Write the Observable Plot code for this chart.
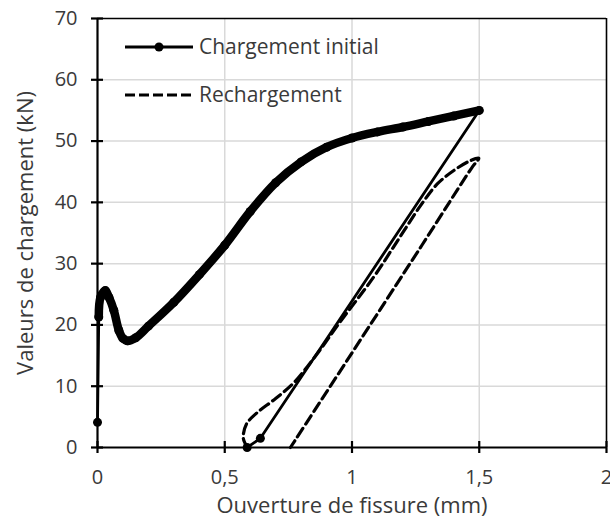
<!DOCTYPE html>
<html><head><meta charset="utf-8">
<script src="https://cdn.jsdelivr.net/npm/d3@7"></script>
<script src="https://cdn.jsdelivr.net/npm/@observablehq/plot@0.6"></script>
<style>body{margin:0;background:#fff}</style>
</head><body><div id="chart"></div>
<script>
const xTicks = [0, 0.5, 1, 1.5, 2];
const yTicks = [0, 10, 20, 30, 40, 50, 60, 70];
const seriesNames = ["Chargement initial", "Rechargement"];
const xTitle = "Ouverture de fissure (mm)";
const yTitle = "Valeurs de chargement (kN)";

// Chargement initial (loading, then unloading back to zero)
const initialX = [0, 0.005, 0.012, 0.031, 0.045, 0.064, 0.084, 0.1, 0.117, 0.15, 0.2, 0.3, 0.4, 0.5, 0.6, 0.7, 0.8, 0.9, 1.0, 1.1, 1.2, 1.3, 1.4, 1.5, 0.64, 0.588];
const initialY = [4.1, 21.3, 24.5, 25.6, 24.5, 22.4, 19.1, 17.8, 17.4, 17.9, 19.8, 23.7, 28.2, 33.0, 38.5, 43.2, 46.6, 49.0, 50.5, 51.5, 52.3, 53.2, 54.1, 55.0, 1.5, 0];

// Rechargement (reloading loop)
const reloadX = [0.59, 0.573, 0.585, 0.625, 0.70, 0.77, 0.856, 0.95, 1.085, 1.18, 1.27, 1.335, 1.40, 1.465, 1.498, 1.47, 1.27, 0.758];
const reloadY = [0, 1.5, 3.8, 5.6, 8.0, 10.5, 14.9, 20.3, 27.8, 33.8, 39.5, 43.0, 45.2, 46.8, 47.2, 45.6, 32.7, 0];

const initial = initialX.map((x, i) => ({x, y: initialY[i]}));
const reload = reloadX.map((x, i) => ({x, y: reloadY[i]}));
const peakIndex = initialX.indexOf(1.5);
const dense = initial.slice(1, peakIndex + 1);

const fmt = d => String(d).replace(".", ",");
const font = "'Open Sans', sans-serif";
const textColor = "#3a3a3a";
const fsTick = 20, fsTitle = 22, fsLegend = 21;

const plot = Plot.plot({
  width: 610, height: 524,
  marginLeft: 97, marginRight: 4, marginTop: 18, marginBottom: 77,
  x: {domain: [0, 2], axis: null},
  y: {domain: [0, 70], axis: null},
  style: {fontFamily: font, background: "white", overflow: "visible"},
  marks: [
    Plot.ruleX(xTicks.slice(1, -1), {stroke: "#d9d9d9", strokeWidth: 1.5}),
    Plot.ruleY(yTicks.slice(1, -1), {stroke: "#d9d9d9", strokeWidth: 1.5}),
    Plot.ruleX([2], {stroke: "black", strokeWidth: 1.6}),
    Plot.ruleY([70], {stroke: "black", strokeWidth: 1.6}),
    Plot.ruleX([0], {stroke: "black", strokeWidth: 2.2}),
    Plot.ruleY([0], {stroke: "black", strokeWidth: 2.2}),
    Plot.ruleX(xTicks, {y1: 0, y2: 0, insetTop: -6, insetBottom: -6, stroke: "black", strokeWidth: 2.2}),
    Plot.ruleY(yTicks, {x1: 0, x2: 0, insetLeft: -6, insetRight: -6, stroke: "black", strokeWidth: 2.2}),
    Plot.text(xTicks, {x: d => d, y: 0, dy: 30, text: d => fmt(d), fontSize: fsTick, fill: textColor}),
    Plot.text(yTicks, {x: 0, y: d => d, dx: -20, textAnchor: "end", text: d => String(d), fontSize: fsTick, fill: textColor}),
    Plot.text([xTitle], {frameAnchor: "bottom", dy: 65, textAnchor: "middle", text: d => d, fontSize: fsTitle, fill: textColor}),
    Plot.text([yTitle], {frameAnchor: "left", dx: -72, rotate: -90, textAnchor: "middle", text: d => d, fontSize: fsTitle, fill: textColor}),
    Plot.line(reload, {x: "x", y: "y", stroke: "black", strokeWidth: 3.2, strokeDasharray: "10,5", curve: "catmull-rom"}),
    Plot.line(initial, {x: "x", y: "y", stroke: "black", strokeWidth: 2.8}),
    Plot.line(dense, {x: "x", y: "y", stroke: "black", strokeWidth: 8.5, curve: "catmull-rom", strokeLinecap: "round", strokeLinejoin: "round"}),
    Plot.dot(initial, {x: "x", y: "y", r: 4.5, fill: "black"})
  ]
});

// Legend inside the plot area
const svg = d3.select(plot);
const lg = svg.append("g").attr("font-family", font).attr("font-size", fsLegend)
  .attr("fill", textColor).attr("text-anchor", "start");
const rows = [{y: 47, dash: null, dot: true}, {y: 95, dash: "10,4", dot: false}];
rows.forEach((r, i) => {
  lg.append("line").attr("x1", 125).attr("x2", 193).attr("y1", r.y).attr("y2", r.y)
    .attr("stroke", "black").attr("stroke-width", 3.2).attr("stroke-dasharray", r.dash);
  if (r.dot) lg.append("circle").attr("cx", 159).attr("cy", r.y).attr("r", 4.5).attr("fill", "black");
  lg.append("text").attr("x", 199).attr("y", r.y).attr("dy", "0.35em").text(seriesNames[i]);
});

document.getElementById("chart").appendChild(plot);
</script>
</body></html>
